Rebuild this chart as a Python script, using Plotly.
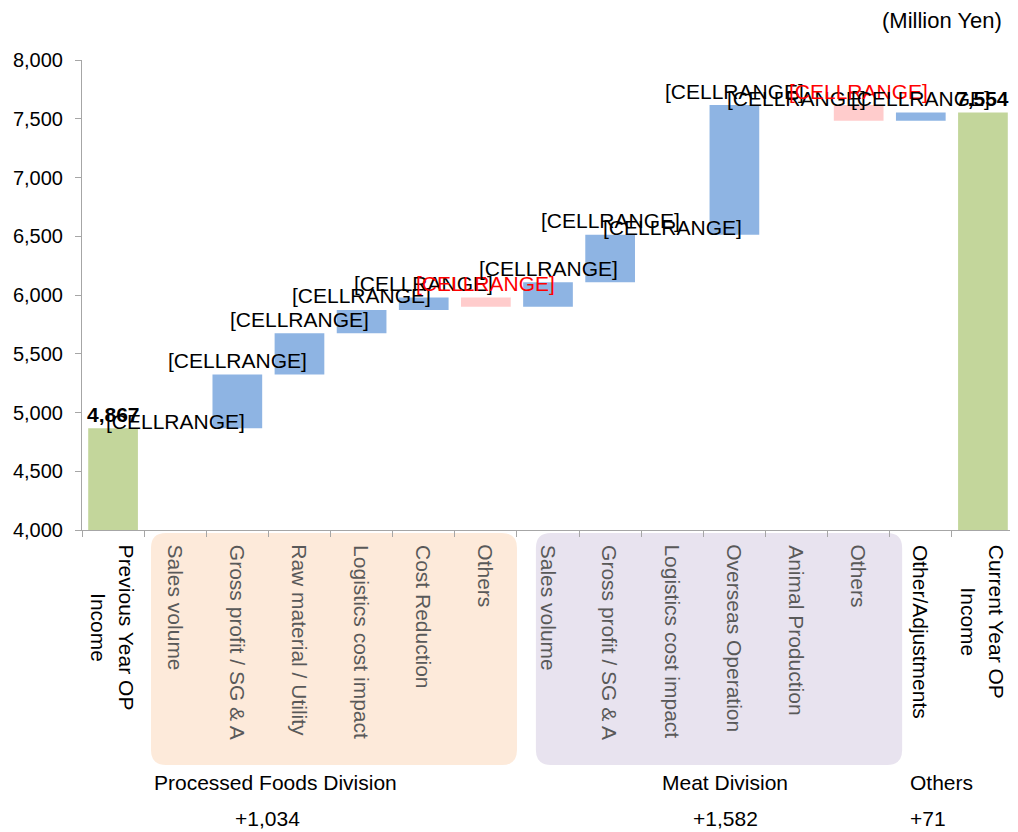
import numpy as np
import plotly.graph_objects as go

# ---------------- data ----------------
categories = [
    "Previous Year OP<br>Income",
    "Sales volume", "Gross profit / SG & A", "Raw material / Utility",
    "Logistics cost impact", "Cost Reduction", "Others",
    "Sales volume", "Gross profit / SG & A", "Logistics cost impact",
    "Overseas Operation", "Animal Production", "Others",
    "Other/Adjustments",
    "Current Year OP<br>Income",
]
measures = ["absolute"] + ["relative"] * 13 + ["total"]
values = [4867, 0, 456, 352, 198, 105, -77, 208, 403, 0, 1105, 0, -134, 71, 0]
bar_labels = ["[CELLRANGE]"] * 15
group_of = ["none"] + ["pf"] * 6 + ["meat"] * 6 + ["none", "none"]

division_names = ["Processed Foods Division", "Meat Division", "Others"]
division_totals = ["+1,034", "+1,582", "+71"]
y_ticks = [4000, 4500, 5000, 5500, 6000, 6500, 7000, 7500, 8000]
unit_label = "(Million Yen)"

# ---------------- colours / style ----------------
C_INC = "#8EB4E3"
C_DEC = "#FFCCCC"
C_TOT = "#C3D69B"
C_AXIS = "#A6A6A6"
FONT = "Liberation Sans, Arial, sans-serif"

# ---------------- running positions ----------------
x = np.arange(len(categories))
ends, starts = [], []
running = 0
for m, v in zip(measures, values):
    if m == "absolute":
        starts.append(0); running = v
    elif m == "relative":
        starts.append(running); running += v
    else:
        starts.append(0)
    ends.append(running)
label_y = [max(s, e) if m == "relative" else e for s, e, m in zip(starts, ends, measures)]

fig = go.Figure()
fig.add_trace(go.Waterfall(
    x=x, y=values, measure=measures, width=0.8,
    increasing=dict(marker=dict(color=C_INC, line=dict(width=0))),
    decreasing=dict(marker=dict(color=C_DEC, line=dict(width=0))),
    totals=dict(marker=dict(color=C_TOT, line=dict(width=0))),
    connector=dict(visible=False),
    textinfo="none", hoverinfo="skip", showlegend=False,
))

annotations = []
# value labels above the bars
for i, (m, v) in enumerate(zip(measures, values)):
    if m in ("absolute", "total"):
        txt, col, shift = f"<b>{ends[i]:,}</b>", "#000000", 14
    else:
        txt = bar_labels[i]
        col = "#FF0000" if v < 0 else "#000000"
        shift = 14 if v != 0 else 7
    annotations.append(dict(
        x=int(x[i]), xref="x", y=label_y[i], yref="y", xanchor="center", yanchor="middle",
        yshift=shift, text=txt, showarrow=False,
        font=dict(family=FONT, size=21, color=col),
    ))

# category labels (rotated)
for i, cat in enumerate(categories):
    col = "#595959" if group_of[i] in ("pf", "meat") else "#000000"
    annotations.append(dict(
        x=i, xref="x", y=-0.027, yref="paper", xanchor="center", yanchor="top",
        text=cat, textangle=90, showarrow=False, align="center",
        font=dict(family=FONT, size=21, color=col),
    ))

# division captions
div_pos = [(0.075, "left", 0.1985, "center"), (0.69, "center", 0.69, "center"), (0.886, "left", 0.886, "left")]
for name, tot, (xn, an, xt, at) in zip(division_names, division_totals, div_pos):
    annotations.append(dict(x=xn, xref="paper", y=-0.538, yref="paper", xanchor=an, yanchor="middle",
                            text=name, showarrow=False, font=dict(family=FONT, size=21, color="#000000")))
    annotations.append(dict(x=xt, xref="paper", y=-0.613, yref="paper", xanchor=at, yanchor="middle",
                            text=tot, showarrow=False, font=dict(family=FONT, size=21, color="#000000")))

annotations.append(dict(x=0.989, xref="paper", y=1.085, yref="paper", xanchor="right", yanchor="middle",
                        text=unit_label, showarrow=False, font=dict(family=FONT, size=22, color="#000000")))


def rounded(x0, y0, x1, y1, rx, ry):
    return (f"M {x0+rx},{y0} L {x1-rx},{y0} Q {x1},{y0} {x1},{y0+ry} "
            f"L {x1},{y1-ry} Q {x1},{y1} {x1-rx},{y1} L {x0+rx},{y1} "
            f"Q {x0},{y1} {x0},{y1-ry} L {x0},{y0+ry} Q {x0},{y0} {x0+rx},{y0} Z")


shapes = [
    dict(type="path", xref="paper", yref="paper", layer="below",
         path=rounded(0.074, -0.5, 0.4667, -0.0064, 0.0161, 0.0319),
         fillcolor="#FDEADA", line=dict(width=0)),
    dict(type="path", xref="paper", yref="paper", layer="below",
         path=rounded(0.487, -0.5, 0.880, -0.0064, 0.0161, 0.0319),
         fillcolor="#E8E3EF", line=dict(width=0)),
]

# page body has an 8px margin, so the figure is 8px smaller and offset accordingly
fig.update_layout(
    width=1010, height=824, autosize=False,
    margin=dict(l=74, r=4, t=52, b=302),
    plot_bgcolor="white", paper_bgcolor="white",
    font=dict(family=FONT, size=20, color="#000000"),
    annotations=annotations, shapes=shapes,
    xaxis=dict(range=[-0.5, len(categories) - 0.5], tickmode="array",
               tickvals=[i - 0.5 for i in range(len(categories) + 1)],
               ticktext=[""] * (len(categories) + 1),
               showline=True, linecolor=C_AXIS, linewidth=1,
               ticks="outside", ticklen=6, tickcolor=C_AXIS,
               showgrid=False, zeroline=False, fixedrange=True),
    yaxis=dict(range=[4000, 8000], tickmode="array", tickvals=y_ticks,
               ticktext=[f"{t:,}" for t in y_ticks],
               showline=True, linecolor=C_AXIS, linewidth=1,
               ticks="outside", ticklen=6, tickcolor=C_AXIS,
               ticklabelstandoff=8,
               showgrid=False, zeroline=False, fixedrange=True,
               tickfont=dict(family=FONT, size=20, color="#000000")),
    bargap=0.2,
)

fig.write_html("out.html")
